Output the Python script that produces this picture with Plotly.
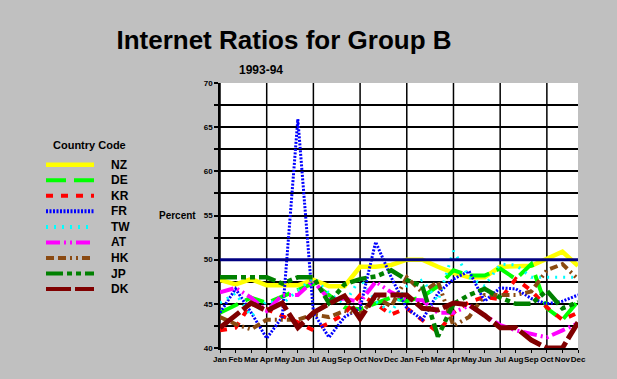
import plotly.graph_objects as go

months = ["Jan", "Feb", "Mar", "Apr", "May", "Jun", "Jul", "Aug", "Sep", "Oct", "Nov", "Dec"] * 2
countries = ["NZ", "DE", "KR", "FR", "TW", "AT", "HK", "JP", "DK"]

NZ = [47.7, 47.2, 47.8, 47.1, 47.1, 47.1, 47.7, 47.0, 47.0, 49.2, 49.2, 49.4,
      50.0, 50.0, 49.2, 48.5, 48.0, 48.0, 49.2, 49.2, 49.3, 50.1, 50.9, 49.3]
DE = [44.0, 44.9, 45.7, 45.1, 45.8, 46.6, 47.3, 46.0, 44.6, 44.4, 45.0, 45.7,
      45.3, 45.8, 47.0, 48.8, 48.2, 48.2, 49.0, 47.8, 49.5, 44.5, 43.2, 45.3]
KR = [42.0, 42.3, 45.0, 44.4, 43.6, 42.9, 42.0, 42.8, 43.9, 46.0, 45.0, 43.8,
      44.5, 43.2, 41.8, 44.0, 45.2, 45.8, 45.5, 47.8, 46.5, 44.6, 43.2, 44.0]
FR = [44.0, 46.7, 44.0, 41.1, 43.5, 65.9, 44.0, 41.2, 43.5, 44.5, 52.0, 48.0,
      44.5, 43.2, 46.2, 47.8, 48.7, 45.3, 46.8, 46.7, 45.6, 45.0, 45.3, 46.0]
TW = [45.1, 46.2, 43.6, 45.3, 45.0, 46.5, 48.0, 46.2, 45.0, 47.9, 45.3, 44.0,
      47.0, 47.7, 45.3, 51.0, 48.0, 47.0, 49.5, 49.4, 48.0, 48.0, 48.0, 48.0]
AT = [46.3, 46.8, 45.7, 44.2, 46.0, 46.0, 47.6, 45.5, 45.6, 45.2, 47.5, 46.3,
      45.5, 45.4, 44.0, 44.0, 44.8, 43.7, 42.6, 42.0, 41.6, 41.2, 42.0, 42.8]
HK = [43.5, 42.7, 42.1, 43.2, 43.2, 43.2, 43.8, 43.5, 44.2, 43.8, 45.8, 44.7,
      48.0, 46.3, 47.5, 42.5, 43.5, 46.0, 46.0, 46.0, 46.4, 48.8, 49.5, 47.8]
JP = [48.0, 48.0, 48.0, 48.0, 47.3, 48.0, 48.0, 45.1, 47.2, 47.8, 48.1, 48.8,
      47.7, 47.0, 41.3, 45.0, 46.0, 46.7, 45.7, 45.0, 45.0, 46.5, 44.5, 45.2]
DK = [42.3, 43.7, 45.1, 44.2, 45.1, 42.3, 44.0, 45.0, 45.9, 43.3, 46.0, 46.0,
      46.0, 44.5, 44.3, 45.1, 44.9, 43.7, 42.3, 42.3, 40.9, 40.0, 40.0, 42.9]

values = [NZ, DE, KR, FR, TW, AT, HK, JP, DK]
colors = ["#ffff00", "#00ff00", "#ff0000", "#0000ff", "#00ffff",
          "#ff00ff", "#8a4a12", "#008000", "#800000"]
dashes = ["solid", "20px,8px", "7px,8px", "2px,1.5px", "2px,6px",
          "14px,4px,2px,4px,2px,4px", "8px,4px,8px,4px,2px,4px,2px,4px",
          "17px,4px,5px,4px,5px,4px", "25px,4px"]
widths = [4.5, 4, 4, 3, 3, 4, 4, 4.5, 5]

x = list(range(len(months)))
fig = go.Figure()
for name, vals, c, d, w in zip(countries, values, colors, dashes, widths):
    fig.add_trace(go.Scatter(x=x, y=vals, mode="lines", name=name,
                             line=dict(color=c, width=w, dash=d),
                             showlegend=False))

# plot geometry (pixels)
L, R, T, B = 220, 39, 83, 31
W, H = 617, 379
pw, ph = W - L - R, H - T - B

def px_x(p):
    return (p - L) / pw

def px_y(p):
    return (H - B - p) / ph

shapes = []
# vertical gridlines every quarter
for i in range(0, len(months), 3):
    shapes.append(dict(type="line", xref="x", yref="paper", x0=i, x1=i, y0=0, y1=1,
                       line=dict(color="black", width=1.5), layer="below"))
# 50% reference line
shapes.append(dict(type="line", xref="paper", yref="y", x0=0, x1=1, y0=50, y1=50,
                   line=dict(color="#000080", width=3), layer="above"))

annotations = []
font_family = "Liberation Sans, Arial, sans-serif"
# legend (manual)
annotations.append(dict(text="Country Code", xref="paper", yref="paper",
                        x=px_x(89), y=px_y(145), showarrow=False, xanchor="center",
                        yanchor="middle",
                        font=dict(family=font_family, size=11, color="black", weight="bold")))
for k, (name, c, d, w) in enumerate(zip(countries, colors, dashes, widths)):
    yy = px_y(164.7 + 15.55 * k)
    shapes.append(dict(type="line", xref="paper", yref="paper",
                       x0=px_x(46), x1=px_x(94), y0=yy, y1=yy,
                       line=dict(color=c, width=4.5 if k == 0 else 4, dash=d)))
    annotations.append(dict(text=name, xref="paper", yref="paper", x=px_x(109), y=yy,
                            showarrow=False, xanchor="left", yanchor="middle",
                            font=dict(family=font_family, size=12, color="black", weight="bold")))

annotations.append(dict(text="1993-94", xref="paper", yref="paper", x=px_x(260.5), y=px_y(70.5),
                        showarrow=False, xanchor="center", yanchor="middle",
                        font=dict(family=font_family, size=12, color="black", weight="bold")))
annotations.append(dict(text="Percent", xref="paper", yref="y", x=px_x(198), y=55,
                        showarrow=False, xanchor="right", yanchor="middle",
                        font=dict(family=font_family, size=10, color="black", weight="bold")))

fig.update_layout(
    width=W, height=H,
    margin=dict(l=L, r=R, t=T, b=B),
    paper_bgcolor="#c0c0c0",
    plot_bgcolor="white",
    title=dict(text="Internet Ratios for Group B", x=284 / W, y=1 - 40 / H,
               xanchor="center", yanchor="middle",
               font=dict(family=font_family, size=26, color="black", weight="bold")),
    shapes=shapes,
    annotations=annotations,
    showlegend=False,
)
fig.update_xaxes(
    range=[0, len(months) - 1], tickmode="array", tickvals=x, ticktext=months,
    showgrid=False, zeroline=False, showline=True, linecolor="black", linewidth=1.5,
    ticks="outside", ticklen=3, tickcolor="black", tickwidth=1,
    tickfont=dict(family=font_family, size=8, color="black", weight="bold"),
    tickangle=0,
)
fig.update_yaxes(
    range=[40, 70], dtick=5, tick0=40,
    showgrid=True, gridcolor="black", gridwidth=1.5, zeroline=False,
    showline=True, linecolor="black", linewidth=1.5,
    ticks="outside", ticklen=4, tickcolor="black", tickwidth=1.5,
    tickfont=dict(family=font_family, size=8, color="black", weight="bold"),
    minor=dict(dtick=2.5, showgrid=True, gridcolor="black", gridwidth=1.5,
               ticks="outside", ticklen=4, tickcolor="black", tickwidth=1.5),
)

fig.write_html("out.html",
               config={"displayModeBar": False},
               post_script="document.body.style.margin='0';"
                           "document.body.style.background='#c0c0c0';")
